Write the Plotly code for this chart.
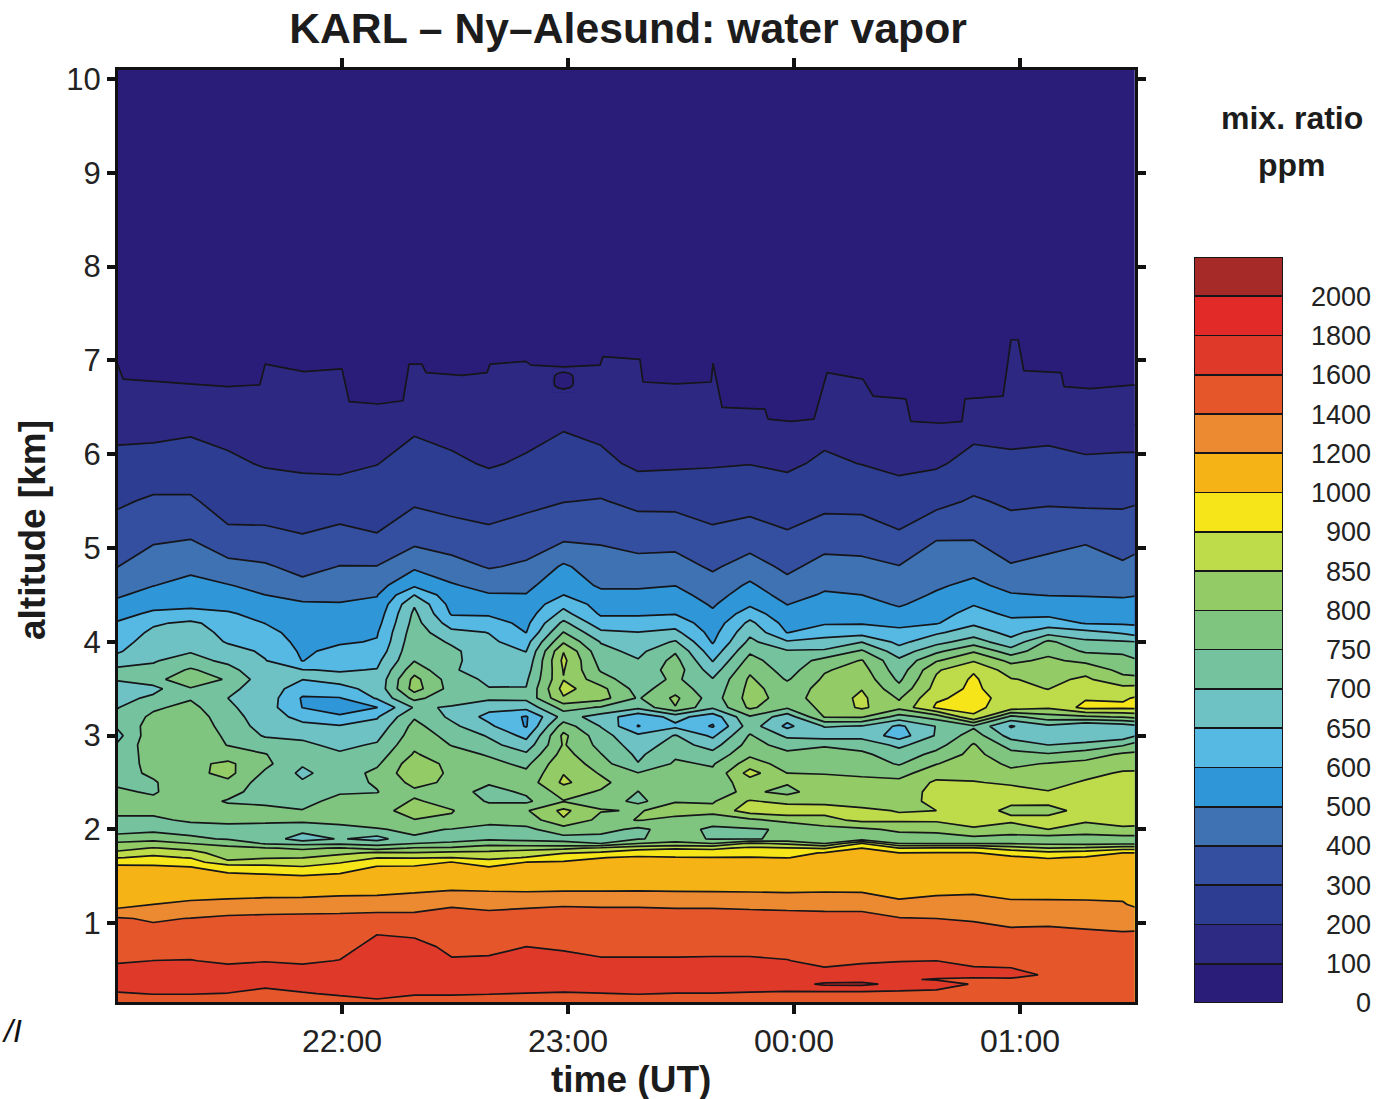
import numpy as np
import plotly.graph_objects as go

W, H = 1387, 1099

# ---- colour classes (ppm) -------------------------------------------------
LEVELS = [0, 100, 200, 300, 400, 500, 600, 650, 700, 750, 800, 850, 900, 1000,
          1200, 1400, 1600, 1800, 2000, 2200]
LEVEL_LABELS = ["0", "100", "200", "300", "400", "500", "600", "650", "700", "750",
                "800", "850", "900", "1000", "1200", "1400", "1600", "1800", "2000"]
BAND_COLORS = ["#2A1D7A", "#2D2A84", "#2D3D92", "#344F9F", "#3E72B3", "#2F97D8",
               "#55B9E3", "#6EC2C4", "#74C29E", "#7FC57F", "#93CC66", "#BEDB49",
               "#F6E619", "#F6B316", "#EB8A31", "#E5572A", "#DF3A29", "#E22B28", "#A62B28"]

# ---- main profiles: minutes after 21:00, altitude in km ---------------------
time_min = [0, 9.9, 19.8, 29.7, 39.6, 49.5, 59.4, 69.3, 79.2, 89.1, 99, 108.9, 118.8, 128.7,
            138.6, 148.5, 158.4, 168.3, 178.2, 188.1, 198, 207.9, 217.8, 227.7, 237.6, 247.5,
            257.4, 267.3, 270.8]
altitude = [6.32, 5.9, 5.5, 5.1, 4.8,
            4.6, 4.5, 4.4, 4.3, 4.2, 4.1, 4.0, 3.9, 3.8, 3.7, 3.6, 3.5, 3.4, 3.3, 3.2,
            3.1, 3.0, 2.9, 2.8, 2.7, 2.6, 2.5, 2.4, 2.3, 2.2, 2.1, 2.0, 1.9, 1.85, 1.8,
            1.75, 1.7, 1.65, 1.6, 1.5,
            1.4, 1.2, 1.05, 0.9, 0.75, 0.6, 0.45, 0.4, 0.35, 0.25, 0.15]

p00 = [170,226,285,348,397, 456,486,523,566,603,616,629,642,670,712,703,680,682,696,712,703,680,702,712,720,732,744,757,770,765,738,725,775,808,832,860,897,985,1020,1060, 1098,1111,1422,1465,1522,1580,1680,1695,1700,1581,1500]
p01 = [170,233,314,386,451, 498,533,571,608,643,660,672,685,697,708,728,685,710,742,760,775,785,785,775,768,758,745,745,760,760,742,735,785,820,853,885,920,980,1020,1060, 1105,1200,1375,1463,1532,1601,1680,1695,1700,1608,1500]
p02 = [180,242,312,398,476, 530,557,582,612,660,675,688,697,715,758,795,745,745,765,780,785,790,790,790,788,785,785,780,775,770,757,730,760,800,838,867,897,950,1000,1050, 1103,1226,1406,1473,1539,1605,1690,1700,1710,1608,1500]
p03 = [170,215,261,324,434, 505,525,570,605,625,635,645,670,690,715,742,710,700,708,720,730,740,748,775,810,815,790,770,745,770,760,735,745,785,812,825,837,860,960,1045, 1100,1243,1443,1469,1523,1577,1670,1690,1700,1594,1500]
p04 = [170,193,253,326,412, 470,500,530,570,598,615,630,642,652,665,672,680,680,675,675,680,695,725,752,762,742,725,722,735,770,760,730,735,745,805,825,845,875,930,1040, 1098,1257,1457,1479,1538,1596,1650,1660,1660,1517,1440]
p05 = [170,185,244,308,371, 425,470,512,530,545,560,570,585,597,652,651,622,590,598,635,662,692,708,715,705,690,705,720,735,752,760,720,670,735,790,825,848,875,905,1015, 1086,1269,1462,1474,1528,1581,1660,1680,1700,1581,1500]
p06 = [170,175,259,326,403, 440,480,505,525,545,565,590,612,630,646,665,636,595,580,603,655,675,690,705,715,725,733,745,765,785,765,735,705,740,805,838,870,895,950,1040, 1104,1280,1467,1485,1545,1604,1700,1720,1720,1630,1500]
p07 = [170,198,251,309,403, 465,495,520,545,567,592,603,617,638,652,662,665,655,598,645,668,688,705,725,742,762,755,748,770,780,770,747,680,730,780,858,898,970,1010,1050, 1118,1277,1492,1591,1650,1700,1740,1750,1750,1655,1560]
p08 = [185,234,287,368,484, 586,650,695,710,718,727,735,742,748,780,815,822,765,705,745,765,775,790,805,830,835,815,790,805,825,798,758,745,750,805,852,895,970,1015,1055, 1133,1306,1471,1575,1640,1700,1730,1740,1740,1619,1500]
p09 = [170,215,268,346,438, 510,535,565,590,627,662,692,712,712,705,725,730,715,697,690,712,735,748,770,785,790,790,770,785,802,795,748,735,757,810,862,900,1005,1030,1060, 1144,1373,1500,1537,1572,1610,1680,1700,1700,1619,1500]
p10 = [170,192,255,327,393, 467,507,547,587,620,649,657,665,670,680,690,702,710,665,635,660,695,715,745,765,775,755,735,745,775,760,740,740,780,830,860,885,950,1000,1050, 1144,1333,1489,1525,1565,1620,1690,1700,1710,1608,1500]
p11 = [170,211,276,350,415, 475,504,528,551,575,598,632,649,664,678,692,702,712,665,590,592,635,672,708,738,760,772,757,740,795,770,740,735,772,830,875,905,1002,1030,1060, 1124,1360,1500,1550,1600,1650,1700,1710,1710,1594,1500]
p12 = [190,243,297,386,515, 570,600,636,666,712,752,793,848,862,853,848,868,845,770,720,775,812,805,820,840,848,860,820,798,862,845,775,735,762,838,895,975,1010,1040,1070, 1125,1383,1500,1543,1583,1640,1700,1710,1710,1581,1500]
p13 = [170,226,306,386,446, 484,530,560,587,620,660,697,715,730,745,770,815,820,745,680,698,720,735,752,770,795,815,795,785,803,785,770,730,750,860,915,998,1030,1050,1075, 1129,1373,1500,1537,1572,1610,1690,1700,1700,1594,1500]
p14 = [170,180,276,363,433, 489,520,552,589,617,651,668,687,703,712,720,730,745,712,615,595,660,675,690,702,752,760,749,733,797,802,738,745,800,880,965,1020,1040,1060,1080, 1133,1373,1500,1537,1570,1610,1680,1690,1700,1608,1500]
p15 = [170,186,274,364,440, 499,531,563,595,630,662,705,745,765,775,760,780,810,798,668,640,703,720,742,757,768,775,788,798,815,790,775,772,815,895,960,1010,1040,1060,1080, 1132,1360,1500,1537,1570,1610,1680,1690,1700,1594,1500]
p16 = [170,193,256,326,386, 440,462,489,515,540,565,590,620,647,675,703,715,725,708,620,590,640,680,715,745,760,772,783,795,815,775,738,745,800,890,950,1005,1040,1060,1080, 1127,1360,1500,1537,1572,1612,1680,1690,1700,1594,1500]
p17 = [170,198,264,351,445, 516,548,585,625,662,688,712,742,768,791,808,815,820,810,745,725,755,770,790,825,870,825,810,855,875,790,745,745,860,920,970,1005,1040,1060,1080, 1127,1344,1500,1537,1572,1612,1680,1690,1700,1581,1500]
p18 = [170,185,249,316,378, 432,465,498,530,563,596,655,705,717,727,745,775,780,757,670,638,690,730,762,778,800,805,785,835,885,815,755,760,840,910,965,998,1040,1060,1080, 1126,1325,1500,1535,1568,1603,1680,1700,1720,1565,1480]
p19 = [170,215,272,356,436, 485,510,540,565,590,627,668,707,768,795,808,815,820,815,803,703,675,745,770,785,798,815,830,842,865,835,780,770,800,895,1015,1040,1060,1075,1090, 1147,1304,1500,1530,1555,1575,1630,1720,1830,1540,1470]
p20 = [170,198,269,355,427, 475,500,530,568,592,628,698,757,803,820,833,848,860,858,805,697,685,727,762,778,795,808,820,835,857,862,790,772,905,1000,1045,1060,1075,1085,1095, 1145,1300,1500,1530,1560,1590,1640,1740,1840,1540,1470]
p21 = [170,180,242,318,404, 448,469,491,525,570,615,636,672,710,722,740,765,795,815,730,640,625,690,720,745,782,812,825,835,848,858,810,775,800,905,1000,1035,1055,1070,1085, 1131,1227,1413,1471,1533,1596,1660,1615,1750,1540,1470]
p22 = [170,188,270,396,452, 488,510,535,563,591,642,683,738,795,843,858,868,893,915,770,702,705,730,765,798,830,858,865,860,850,858,815,775,800,915,1010,1040,1060,1075,1090, 1140,1253,1400,1470,1535,1600,1650,1590,1660,1560,1460]
p23 = [170,229,312,396,468, 522,556,595,617,642,675,725,795,845,895,915,925,930,920,895,742,775,805,815,827,838,852,862,868,870,865,845,785,800,915,1010,1040,1060,1075,1090, 1147,1261,1383,1458,1520,1582,1625,1585,1590,1530,1450]
p24 = [170,217,283,352,407, 473,507,544,581,612,635,665,723,788,825,853,860,883,880,735,645,680,730,765,790,812,845,862,858,840,860,825,780,797,875,970,1025,1050,1070,1085, 1130,1225,1342,1435,1500,1560,1640,1585,1560,1500,1440]
p25 = [170,225,289,366,429, 475,497,535,575,625,680,760,787,810,825,838,849,865,857,780,690,685,700,755,803,818,835,852,857,840,860,850,775,790,850,925,995,1040,1060,1080, 1126,1226,1348,1440,1490,1535,1585,1570,1560,1500,1440]
p26 = [170,209,280,388,443, 470,495,527,560,593,665,710,743,787,835,858,878,895,930,790,652,660,715,775,815,837,855,862,870,860,855,835,770,785,860,950,1015,1050,1070,1085, 1129,1222,1326,1425,1478,1515,1545,1545,1540,1490,1430]
p27 = [170,212,285,356,413, 465,491,521,554,587,642,705,742,765,785,815,865,893,920,805,670,670,745,808,832,855,862,868,868,862,858,846,777,790,880,1000,1040,1060,1075,1090, 1131,1213,1307,1407,1450,1490,1520,1520,1515,1480,1430]
p28 = [170,212,292,366,430, 475,497,525,555,585,625,700,725,755,780,812,868,910,925,815,685,698,770,810,835,855,862,868,868,862,858,845,777,790,880,1000,1040,1060,1075,1090, 1131,1174,1296,1413,1455,1495,1525,1525,1515,1480,1430]

# ---- upper troposphere, on a finer time grid --------------------------------
time_top = [0, 1.9, 29.7, 38.2, 39.6, 49.9, 60, 61.9, 69.6, 76.2, 77.8, 81.2, 82.3, 91.9, 98.5,
            99.3, 108.8, 110.2, 118.9, 128.5, 129.3, 139.1, 139.9, 148.7, 158, 158.5, 160.9,
            172.3, 173.1, 179.2, 185.3, 188.8, 198.3, 201, 209.7, 211, 219.3, 224.6, 225.4,
            235.5, 237.6, 239.5, 241, 250.9, 251.7, 258.6, 270.8]
altitude_top = [6.3, 7.3, 10.12]
top_at_6p3 = [170, 150, 142, 144, 166, 158, 161, 126, 123.5, 127, 166, 166, 157, 154, 157,
              166, 169, 165, 163, 165, 174, 171, 147, 145, 147, 167, 120,
              118, 107.5, 105, 107.5, 157, 150, 132, 129, 105, 103, 105, 129,
              132, 192, 192, 159, 157, 142, 140, 144]
top_at_7p3 = [70, 50, 42, 44, 66, 58, 61, 26, 23.5, 27, 66, 66, 57, 54, 57,
              66, 69, 65, 63, 65, 74, 71, 47, 45, 47, 67, 20,
              18, 7.5, 5, 7.5, 57, 50, 32, 29, 5, 3, 5, 29,
              32, 92, 92, 59, 57, 42, 40, 44]
top_at_10km = [20, 20, 20, 20, 20, 20, 20, 20, 20, 20, 20, 20, 20, 20, 20, 20,
               20, 20, 20, 20, 20, 20, 20, 20, 20, 20, 20, 20, 20, 20, 20, 20,
               20, 20, 20, 20, 20, 20, 20, 20, 3, 3, 20, 20, 20, 20, 20]

# ---- little dry pocket near 23:00, 6.8 km -----------------------------------
pocket_time = [115.9, 116.5, 118.8, 121.2, 121.8]
pocket_alt = [6.66, 6.71, 6.78, 6.86, 6.91]
pocket_ppm = [[120, 120, 120, 120, 120],
              [120, 104, 90, 104, 120],
              [120, 90, 80, 90, 120],
              [120, 104, 90, 104, 120],
              [120, 120, 120, 120, 120]]

# ---- axes ---------------------------------------------------------------------
x_ticks = [60, 120, 180, 240]
x_labels = ["22:00", "23:00", "00:00", "01:00"]
y_ticks = [1, 2, 3, 4, 5, 6, 7, 8, 9, 10]


def to_class(ppm):
    return np.interp(np.asarray(ppm, dtype=float), LEVELS, np.arange(len(LEVELS)))


n_band = len(BAND_COLORS)
# plotly fills the region above level L with the colour near (L + 1) / (n contour levels);
# a flat plateau around each of those positions keeps every class a single colour.
scale = [[0, BAND_COLORS[0]]]
for i, c in enumerate(BAND_COLORS):
    mid = (i + 1) / (n_band + 1)
    scale += [[mid - 0.02, c], [mid + 0.02, c]]
scale.append([1, BAND_COLORS[-1]])

profiles = [p00, p01, p02, p03, p04, p05, p06, p07, p08, p09, p10, p11, p12, p13, p14,
            p15, p16, p17, p18, p19, p20, p21, p22, p23, p24, p25, p26, p27, p28]
matrix = np.array(profiles, dtype=float).T[::-1]
alt_up = altitude[::-1]
top_matrix = np.array([top_at_6p3, top_at_7p3, top_at_10km], dtype=float)


def contour(x, y, z):
    return go.Contour(
        x=x, y=y, z=to_class(z), xaxis="x", yaxis="y",
        zmin=0, zmax=n_band, colorscale=scale, showscale=False, autocontour=False,
        contours=dict(start=0, end=n_band, size=1, coloring="fill", showlines=True),
        line=dict(color="#15151a", width=1.7, smoothing=0),
        hoverinfo="skip",
    )


fig = go.Figure()
fig.add_trace(contour(time_min, alt_up, matrix))
fig.add_trace(contour(time_top, altitude_top, top_matrix))
fig.add_trace(contour(pocket_time, pocket_alt, pocket_ppm))

for i, c in enumerate(BAND_COLORS):
    fig.add_trace(go.Bar(x=["class"], y=[1], xaxis="x2", yaxis="y2", width=1,
                         marker=dict(color=c, line=dict(color="#15151a", width=1.7)),
                         showlegend=False, hoverinfo="skip"))

axis_font = dict(family="Liberation Sans", size=32, color="#222222")
bold = "Liberation Sans"


def px(v):
    return v / W


def py(v):
    return 1 - v / H


fig.update_layout(
    width=W, height=H, margin=dict(l=0, r=0, t=0, b=0),
    paper_bgcolor="white", plot_bgcolor="white", barmode="stack", showlegend=False,
    title=dict(text="<b>KARL – Ny–Alesund: water vapor</b>", x=628 / W, xanchor="center",
               y=py(28), yanchor="middle", yref="container",
               font=dict(family=bold, size=42.7, color="#1c1c1c")),
    xaxis=dict(domain=[px(118), px(1134.5)], range=[0.53, 270.4], tickvals=x_ticks, ticktext=x_labels,
               ticks="outside", ticklen=9, tickwidth=4, tickcolor="#111", showline=True, linecolor="#111",
               linewidth=3, mirror="ticks", showgrid=False, zeroline=False, tickfont=axis_font,
               automargin=False),
    yaxis=dict(domain=[py(1002), py(70)], range=[0.16, 10.096], tickvals=y_ticks,
               ticks="outside", ticklen=8, tickwidth=4, tickcolor="#111", showline=True, linecolor="#111",
               linewidth=3, mirror="ticks", showgrid=False, zeroline=False,
               tickfont=dict(family="Liberation Sans", size=31, color="#222222"),
               automargin=False),
    xaxis2=dict(domain=[px(1194), px(1283)], range=[-0.5, 0.5], anchor="y2", visible=False,
                type="category", automargin=False),
    yaxis2=dict(domain=[py(1003), py(257)], range=[0, 19], anchor="free", position=px(1371),
                side="left", tickvals=list(range(19)), ticktext=LEVEL_LABELS, ticks="",
                showline=False, showgrid=False, zeroline=False, automargin=False,
                tickfont=dict(family="Liberation Sans", size=27, color="#222222")),
    annotations=[
        dict(text="<b>time (UT)</b>", x=px(631), y=py(1079), xref="paper", yref="paper", showarrow=False,
             font=dict(family=bold, size=37, color="#1c1c1c"), xanchor="center", yanchor="middle"),
        dict(text="<b>altitude [km]</b>", x=px(32), y=py(530), xref="paper", yref="paper", showarrow=False,
             textangle=-90, font=dict(family=bold, size=37, color="#1c1c1c"),
             xanchor="center", yanchor="middle"),
        dict(text="<b>mix. ratio</b>", x=px(1292), y=py(118), xref="paper", yref="paper", showarrow=False,
             font=dict(family=bold, size=32, color="#1c1c1c"), xanchor="center", yanchor="middle"),
        dict(text="<b>ppm</b>", x=px(1292), y=py(165), xref="paper", yref="paper", showarrow=False,
             font=dict(family=bold, size=32, color="#1c1c1c"), xanchor="center", yanchor="middle"),
        dict(text="<i>/I</i>", x=px(0), y=py(1031), xref="paper", yref="paper", showarrow=False,
             font=dict(family="Liberation Sans", size=32, color="#111"), xanchor="left", yanchor="middle"),
    ],
)

fig.write_html("out.html", config=dict(displayModeBar=False),
               post_script="document.body.style.margin='0';document.body.style.overflow='hidden';")
